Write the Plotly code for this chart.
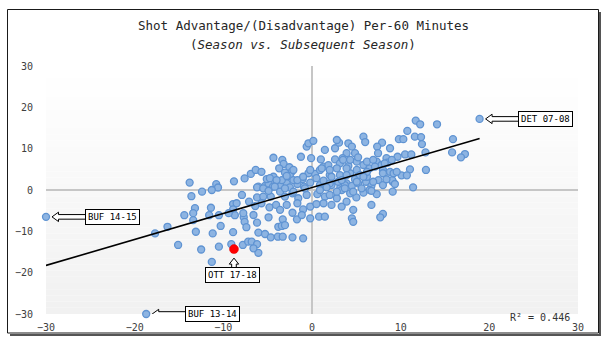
import numpy as np
import plotly.graph_objects as go

# Shot advantage/(disadvantage) per 60 minutes: a team's season (x) and its next season (y)
season = [
    -13.8, -13.6, -12.4, -10.8, -10.6, -8.8, -7.6, -6.9,
    -13.2, -13.4, -14.4, -11.4, -11.6, -10.5, -13.4, -16.3, -17.7, -13.1, -11.2, -10.3,
    -15.1, -12.5, -10.5, -11.3,
    -7.9, -8.9, -8.5, -8.9, -7.1, -8.7, -7.7, -7.6, -7.4, -8.9, -9.1, -7.8, -7.2,
    -6.05, -5.3, -4.9, -4.4, -4.0, -3.5, -2.85, -2.5, -1.65, -0.9, -0.2, 0.9, 1.45, 2.2,
    3.2, 3.9, 4.5, 5.2, 6.1, 6.7, 9.1,
    -11.3, -6.2, -5.5, -4.65, -3.6, -3.05, -2.2, -1.55, -0.6, 0.6, 1.45, 2.0, 2.8, 3.35,
    4.3, 5.0, 5.8, 6.5, 7.3, 9.1,
    -6.4, -5.7, -4.8, -4.05, -3.6, -2.85, -2.2, -1.65, -1.0, -0.2, 0.5, 1.3, 2.2, 3.35,
    3.9, 4.65, 6.7, 8.0, 7.7,
    -9.4, -7.75, -6.6, -6.2, -4.9, -3.3, -1.7, -1.15, -0.2, 0.8, 1.45, 4.5, 4.65, -3.8,
    -3.4, -3.05,
    -6.05, -5.3, -4.65, -3.85, -3.3, -2.2, -1.0, -6.8, -6.2, -6.05, -6.6,
    -6.35, -5.7, -4.35, -3.35, -3.2, -3.7, -2.55, -2.3, -1.25, -0.6, -0.4, 0.15, -0.1,
    1.0, 1.45, -1.05, -0.4, 0.35, -5.1, -4.35, -3.4, -3.05, -2.5, -2.1, -6.2, 0.9, 1.3,
    1.85, 2.6, 3.05, 2.6, 3.15, 4.1, 4.5, 3.9, 3.45, 4.85, 5.05, 4.1, 2.8, 2.0, 3.15,
    4.3, 4.85, 1.3, 2.0, 2.95, 3.7, 5.05, 2.8,
    5.8, 6.0, 10.75, 11.7, 12.2, 14.1, 9.8, 10.3, 11.6, 12.3, 12.4, 7.9, 7.35, 8.8,
    15.9, 15.8, 17.25, 16.8, 12.8, 10.5, 11.2, 9.65, 7.45, 12.85, 11.05, 10.1, 10.7,
    9.05, 11.4,
    5.2, 5.8, 6.5, 7.3, 7.85, 8.4, 8.5, 8.0, 8.8, 9.2, 5.4, 6.2, 7.5, 8.0, 9.0,
    3.5, 4.3, 6.2, 6.9, 8.2, -2.1, -0.2, 1.1, 2.0, 3.9, 6.2, 7.1, 8.0, 9.55, -4.75,
    -4.0, -2.85, -1.65, -1.0, 0.5, 2.2, 3.35, 3.9, 5.05, 5.8, 6.9, 8.4, 9.35, -5.5,
    -4.9, -4.2, -3.05, -2.1, -0.8, 0.9, 1.65, 2.8, 3.7, 4.65, 5.6, 6.7,
]
next_season = [
    1.8, -1.5, -0.4, 1.4, 0.6, 2.1, 2.8, 3.9,
    -4.4, -5.6, -6.1, -4.3, -6.1, -6.1, -7.3, -8.9, -10.5, -10.1, -10.5, -8.7,
    -13.3, -14.4, -13.7, -17.4,
    -1.2, -3.4, -3.2, -4.7, -2.8, -6.1, -6.6, -7.7, -9.0, -10.2, -13.1, -13.3, -12.5,
    0.8, 1.0, 1.6, 0.8, 2.0, 1.0, 1.6, 0.65, 1.45, 0.8, 1.8, 1.2, 1.8, 1.2,
    0.65, 1.6, 1.0, 1.6, 2.0, 1.0, 2.0,
    0.0, -1.8, -1.6, -1.6, -0.4, -1.6, -0.8, -2.0, -1.2, -1.0, -1.6, -1.2, -2.0, 0.0,
    -0.8, -1.8, -0.65, 0.0, -1.0, -0.4,
    -3.9, -3.2, -4.2, -3.6, -4.8, -3.6, -5.5, -3.2, -4.7, -4.0, -3.4, -3.2, -3.6, -4.0,
    -2.8, -4.8, -3.6, -5.8, -6.6,
    -5.6, -5.6, -6.05, -7.9, -6.6, -7.1, -7.1, -6.05, -6.85, -6.45, -6.45, -6.85, -7.7, -8.9,
    -8.7, -8.5,
    -10.3, -10.65, -11.45, -11.3, -11.3, -11.45, -11.7, -12.5, -13.1, -15.2, -14.1,
    4.85, 4.4, 7.8, 7.3, 6.3, 5.25, 5.5, 4.4, 8.05, 10.5, 11.3, 11.9, 7.7,
    7.4, 9.7, 2.65, 4.05, 3.9, 2.65, 3.2, 2.4, 4.2, 3.4, 2.4, 0.65, 4.85, 5.65,
    6.0, 10.1, 11.45, 7.4, 6.45, 11.3, 10.5, 8.9, 7.7, 8.9, 6.85, 5.8, 5.25, 3.6, 3.6,
    4.05, 2.6, 2.25, 1.6, 2.0, 1.2, 4.85, 12.1,
    12.9, 11.6, 14.3, 16.8, 15.9, 15.9, 12.3, 12.3, 12.9, 12.8, 11.1, 11.45, 10.5, 10.1,
    12.3, 9.1, 8.7, 7.9, 9.1, 8.6, 8.6, 8.05, 8.9, 4.85, 5.0, 3.55, 3.55,
    2.4, 0.65,
    7.9, 6.05, 5.25, 6.85, 6.05, 7.7, 6.6, 4.85, 4.4, 4.05, 3.6, 3.2, 2.4, 1.2, 7.3,
    7.3, 7.3, 6.85, 7.3, 6.45, 4.85, 4.85, 5.25, 4.85, 5.25, 4.4, 5.65, 4.05, 4.4, 2.85,
    2.4, 3.4, 2.4, 3.2, 2.85, 3.2, 2.4, 3.6, 2.0, 3.2, 2.0, 2.6, 1.45, 0.4,
    -0.2, 0.8, 0.4, -0.4, 0.4, 0.0, 0.65, -0.4, 0.4, -0.4, 0.4, -0.2,
]

# Team seasons called out with a label box
callout_teams = ["BUF 14-15", "BUF 13-14", "DET 07-08"]
callout_x = [-30.0, -18.7, 18.9]
callout_y = [-6.5, -30.0, 17.2]

# Highlighted team season (drawn in red)
highlight_team = "OTT 17-18"
highlight_x = [-8.8]
highlight_y = [-14.3]

r_squared_text = "R² = 0.446"
axis_ticks = [-30, -20, -10, 0, 10, 20, 30]

all_x = np.array(season + callout_x + highlight_x)
all_y = np.array(next_season + callout_y + highlight_y)

# Least-squares trend line over the full range of seasons
slope, intercept = np.polyfit(all_x, all_y, 1)
fit_x = np.array([all_x.min(), all_x.max()])
fit_y = slope * fit_x + intercept

W, H = 606, 348
ML, MR, MT, MB = 46, 28, 66, 34
PW, PH = W - ML - MR, H - MT - MB


def px_x(p):
    return (p - ML) / PW


def px_y(p):
    return (H - MB - p) / PH


MONO = "DejaVu Sans Mono"
BLUE_FILL = "#8db4e2"
BLUE_EDGE = "#5f93d2"

fig = go.Figure()

fig.add_trace(go.Scatter(
    x=season + callout_x, y=next_season + callout_y, mode="markers",
    marker=dict(size=7, color=BLUE_FILL, line=dict(color=BLUE_EDGE, width=1.3)),
    cliponaxis=False, hoverinfo="x+y",
))
fig.add_trace(go.Scatter(
    x=fit_x, y=fit_y, mode="lines",
    line=dict(color="black", width=1.6), hoverinfo="skip",
))
fig.add_trace(go.Scatter(
    x=highlight_x, y=highlight_y, mode="markers",
    marker=dict(size=9, color="#ff0000", line=dict(color="#e00000", width=0.5)),
    cliponaxis=False, hoverinfo="x+y",
))

shapes = []

# Soft vertical gradient behind the plotting area
n_bands = 40
for i in range(n_bands):
    t = i / (n_bands - 1)
    g = int(round(255 - 14 * t))
    shapes.append(dict(
        type="rect", xref="paper", yref="paper", layer="below",
        x0=0, x1=1, y1=1 - i / n_bands, y0=1 - (i + 1) / n_bands,
        fillcolor=f"rgb({g},{g},{g})", line=dict(width=0),
    ))

# Chart frame with a drop shadow on the right and bottom
shapes.append(dict(
    type="path", xref="paper", yref="paper",
    path=(f"M {px_x(600)},{px_y(12)} L {px_x(600)},{px_y(335)} "
          f"L {px_x(10)},{px_y(335)}"),
    line=dict(color="#555555", width=2),
))
shapes.append(dict(
    type="rect", xref="paper", yref="paper",
    x0=px_x(7.5), x1=px_x(598.5), y0=px_y(333), y1=px_y(9.5),
    line=dict(color="#1a1a1a", width=1),
))

# Hollow block arrows pointing at the labelled seasons
left_arrow = ("M 6,0 L 12.5,4.7 L 12.5,2.3 L 40,2.3 L 40,-2.3 "
              "L 12.5,-2.3 L 12.5,-4.7 Z")
for cx, cy in zip(callout_x, callout_y):
    shapes.append(dict(
        type="path", xref="x", yref="y", xsizemode="pixel", ysizemode="pixel",
        xanchor=cx, yanchor=cy, path=left_arrow,
        fillcolor="white", line=dict(color="black", width=1),
    ))
up_arrow = ("M 0,-9 L 4.7,-15 L 2.3,-15 L 2.3,-20 L -2.3,-20 "
            "L -2.3,-15 L -4.7,-15 Z")
shapes.append(dict(
    type="path", xref="x", yref="y", xsizemode="pixel", ysizemode="pixel",
    xanchor=highlight_x[0], yanchor=highlight_y[0], path=up_arrow,
    fillcolor="white", line=dict(color="black", width=1),
))

annotations = []
for name, cx, cy in zip(callout_teams, callout_x, callout_y):
    annotations.append(dict(
        x=cx, y=cy, xref="x", yref="y", text=name, showarrow=False,
        xshift=66, yshift=0, xanchor="center", yanchor="middle",
        bgcolor="white", bordercolor="black", borderwidth=1, borderpad=2,
        font=dict(family=MONO, size=9, color="black"),
    ))
annotations.append(dict(
    x=highlight_x[0], y=highlight_y[0], xref="x", yref="y", text=highlight_team,
    showarrow=False, xshift=-1, yshift=-26, xanchor="center", yanchor="middle",
    bgcolor="white", bordercolor="black", borderwidth=1, borderpad=2,
    font=dict(family=MONO, size=9, color="black"),
))

# Two-line title
annotations.append(dict(
    x=px_x(303), y=px_y(26), xref="paper", yref="paper", showarrow=False,
    text="Shot Advantage/(Disadvantage) Per-60 Minutes",
    xanchor="center", yanchor="middle",
    font=dict(family=MONO, size=12.5, color="#262626"),
))
annotations.append(dict(
    x=px_x(303), y=px_y(44), xref="paper", yref="paper", showarrow=False,
    text="(<i>Season vs. Subsequent Season</i>)",
    xanchor="center", yanchor="middle",
    font=dict(family=MONO, size=12.5, color="#262626"),
))

# Goodness of fit
annotations.append(dict(
    x=px_x(572), y=px_y(317), xref="paper", yref="paper", showarrow=False,
    text=r_squared_text, xanchor="right", yanchor="middle",
    font=dict(family=MONO, size=10, color="#333333"),
))

axis_common = dict(
    range=[-30, 30], tickvals=axis_ticks, showgrid=False, showline=False,
    zeroline=True, zerolinecolor="#c6c6c6", zerolinewidth=1.5, ticks="",
    tickfont=dict(family=MONO, size=10, color="#404040"), fixedrange=True,
)

fig.update_layout(
    width=W, height=H, margin=dict(l=ML, r=MR, t=MT, b=MB, autoexpand=False),
    paper_bgcolor="white", plot_bgcolor="white", showlegend=False,
    xaxis=dict(**axis_common, ticklabelstandoff=6),
    yaxis=dict(**axis_common, ticklabelstandoff=12),
    shapes=shapes, annotations=annotations,
)

fig.write_html("out.html")
